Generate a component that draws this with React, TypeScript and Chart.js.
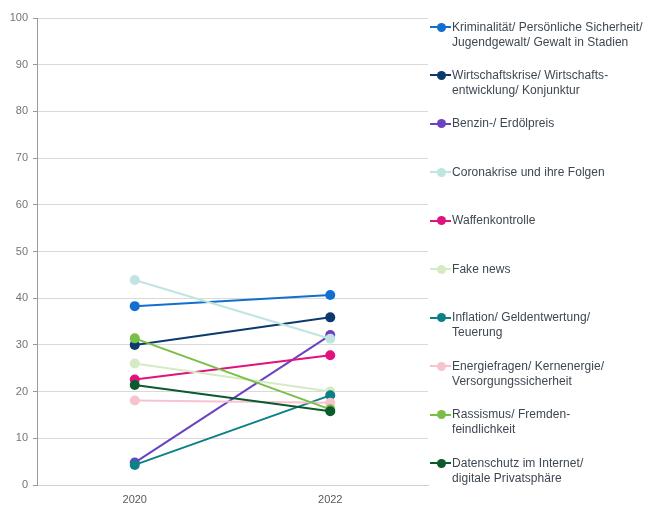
import React, { useEffect, useRef } from "react";
import { Chart, registerables } from "chart.js";

Chart.register(...registerables);

const years = ["2020", "2022"];

const seriesNames: string[][] = [
  ["Kriminalität/ Persönliche Sicherheit/", "Jugendgewalt/ Gewalt in Stadien"],
  ["Wirtschaftskrise/ Wirtschafts-", "entwicklung/ Konjunktur"],
  ["Benzin-/ Erdölpreis"],
  ["Coronakrise und ihre Folgen"],
  ["Waffenkontrolle"],
  ["Fake news"],
  ["Inflation/ Geldentwertung/", "Teuerung"],
  ["Energiefragen/ Kernenergie/", "Versorgungssicherheit"],
  ["Rassismus/ Fremden-", "feindlichkeit"],
  ["Datenschutz im Internet/", "digitale Privatsphäre"],
];

const kriminalitaet = [38.3, 40.7];
const wirtschaftskrise = [30.0, 35.9];
const benzin = [4.8, 32.1];
const corona = [43.9, 31.3];
const waffen = [22.6, 27.8];
const fakeNews = [26.0, 20.0];
const inflation = [4.3, 19.2];
const energie = [18.1, 17.6];
const rassismus = [31.4, 16.2];
const datenschutz = [21.4, 15.8];

const seriesValues = [
  kriminalitaet,
  wirtschaftskrise,
  benzin,
  corona,
  waffen,
  fakeNews,
  inflation,
  energie,
  rassismus,
  datenschutz,
];

const seriesColors = [
  "#1170cf",
  "#0d3a6c",
  "#6a42c2",
  "#bfe4e2",
  "#e0127e",
  "#d6eac6",
  "#0b8086",
  "#f7c3cf",
  "#7abf45",
  "#0b5a2e",
];

const yTicks = [0, 10, 20, 30, 40, 50, 60, 70, 80, 90, 100];

const FONT = "'Liberation Sans', Arial, sans-serif";

export default function App() {
  const canvasRef = useRef<HTMLCanvasElement | null>(null);

  useEffect(() => {
    document.body.style.margin = "0";
    const canvas = canvasRef.current;
    if (!canvas) return;
    const n = seriesValues.length;
    const chart = new Chart(canvas, {
      type: "line",
      data: {
        labels: years,
        datasets: seriesValues.map((vals, i) => ({
          label: seriesNames[i].join(" "),
          data: vals,
          borderColor: seriesColors[i],
          backgroundColor: seriesColors[i],
          pointBackgroundColor: seriesColors[i],
          pointBorderColor: seriesColors[i],
          pointRadius: 5,
          pointBorderWidth: 0,
          borderWidth: 2,
          tension: 0,
          fill: false,
          order: n - i,
        })),
      },
      options: {
        responsive: false,
        animation: false,
        layout: { padding: { top: 18, right: 2, left: 0, bottom: 0 } },
        plugins: {
          legend: { display: false },
          tooltip: { enabled: false },
        },
        scales: {
          x: {
            type: "category",
            offset: true,
            grid: { display: false, drawTicks: false },
            border: { display: true, color: "#d0d0d0", width: 1 },
            ticks: {
              color: "#555a60",
              font: { family: FONT, size: 11 },
              padding: 8,
            },
            afterFit: (s: any) => {
              s.height = 21;
            },
          },
          y: {
            min: 0,
            max: 100,
            afterBuildTicks: (s: any) => {
              s.ticks = yTicks.map((v) => ({ value: v }));
            },
            grid: {
              color: "#d9d9d9",
              lineWidth: 1,
              tickLength: 4,
              tickColor: "#9a9a9a",
            },
            border: { display: true, color: "#9a9a9a", width: 1 },
            ticks: {
              color: "#747474",
              font: { family: FONT, size: 11 },
              padding: 5,
            },
            afterFit: (s: any) => {
              s.width = 37;
            },
          },
        },
      },
    });
    return () => chart.destroy();
  }, []);

  return (
    <div style={{ position: "relative", width: 648, height: 506, background: "#fff" }}>
      <canvas
        ref={canvasRef}
        width={433}
        height={506}
        style={{ position: "absolute", left: 0, top: 0, width: 433, height: 506 }}
      />
      <div style={{ position: "absolute", left: 428, top: 19.5, width: 220 }}>
        {seriesNames.map((lines, i) => (
          <div
            key={i}
            style={{
              position: "absolute",
              top: i * 48.45,
              left: 0,
              height: 48,
              width: 220,
            }}
          >
            <div
              style={{
                position: "absolute",
                left: 2,
                top: 6.5,
                width: 21,
                height: 2,
                background: seriesColors[i],
              }}
            />
            <div
              style={{
                position: "absolute",
                left: 8.5,
                top: 3,
                width: 9,
                height: 9,
                borderRadius: "50%",
                background: seriesColors[i],
              }}
            />
            <div
              style={{
                position: "absolute",
                left: 24,
                top: 0,
                fontFamily: FONT,
                fontSize: 12,
                lineHeight: "15px",
                letterSpacing: 0.05,
                color: "#3d4752",
                whiteSpace: "nowrap",
              }}
            >
              {lines.map((l, j) => (
                <div key={j}>{l}</div>
              ))}
            </div>
          </div>
        ))}
      </div>
    </div>
  );
}
